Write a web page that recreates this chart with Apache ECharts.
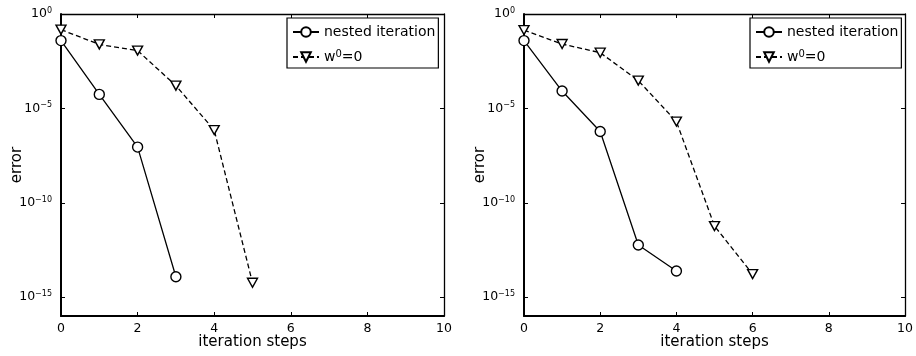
<!DOCTYPE html>
<html><head><meta charset="utf-8">
<script src="https://cdn.jsdelivr.net/npm/echarts@6/dist/echarts.min.js"></script>
<style>html,body{margin:0;padding:0;background:#fff}#c{width:916px;height:356px}</style>
</head><body><div id="c"></div>
<script>
// ---- data ----
const xTicks = [0, 2, 4, 6, 8, 10];
const yTickValues = [1, 1e-5, 1e-10, 1e-15];
const seriesNames = ['nested iteration', 'w0=0'];
const xLabelText = 'iteration steps';
const yLabelText = 'error';

const stepsLeftNested = [0, 1, 2, 3];
const errLeftNested   = [3.9e-2, 5.5e-5, 8.9e-8, 1.2e-14];
const stepsLeftZero   = [0, 1, 2, 3, 4, 5];
const errLeftZero     = [1.48e-1, 2.45e-2, 1.15e-2, 1.6e-4, 7.1e-7, 5.8e-15];

const stepsRightNested = [0, 1, 2, 3, 4];
const errRightNested   = [3.9e-2, 8.3e-5, 6.0e-7, 5.8e-13, 2.4e-14];
const stepsRightZero   = [0, 1, 2, 3, 4, 5, 6];
const errRightZero     = [1.41e-1, 2.57e-2, 8.9e-3, 2.95e-4, 2.0e-6, 5.8e-12, 1.66e-14];

// ---- build ----
const FONT = 'DejaVu Sans';
const black = '#000';
const chart = echarts.init(document.getElementById('c'), null, {renderer: 'canvas'});

const grids = [
  {left: 61, right: 472, top: 14, bottom: 40},
  {left: 524, right: 9, top: 14, bottom: 40}
];

function supLabel(v) {
  const e = Math.round(Math.log10(v));
  return '{b|10}{s|' + (e === 0 ? '0' : '\u2212' + (-e)) + '}';
}

const xAxes = [], yAxes = [];
grids.forEach((g, gi) => {
  const base = {
    type: 'value', gridIndex: gi, min: xTicks[0], max: xTicks[xTicks.length - 1], interval: 2,
    axisTick: {show: true, inside: true, length: 4, lineStyle: {color: black, width: 1}},
    splitLine: {show: false}
  };
  xAxes.push(Object.assign({}, base, {
    position: 'bottom',
    axisLine: {show: true, onZero: false, lineStyle: {color: black, width: 2}},
    name: xLabelText, nameLocation: 'middle', nameGap: 19, nameMoveOverlap: false,
    nameTextStyle: {fontFamily: FONT, fontSize: 15, color: black},
    axisLabel: {show: true, margin: 6, fontFamily: FONT, fontSize: 12.5, color: black}
  }));
  xAxes.push(Object.assign({}, base, {
    position: 'top',
    axisLine: {show: true, onZero: false, lineStyle: {color: black, width: 1.3}},
    axisLabel: {show: false}
  }));

  const ybase = {
    type: 'log', logBase: 10, gridIndex: gi, min: 1e-16, max: 1,
    axisTick: {show: true, inside: true, length: 4, lineStyle: {color: black, width: 1}, customValues: yTickValues},
    splitLine: {show: false},
    minorTick: {show: false}
  };
  yAxes.push(Object.assign({}, ybase, {
    position: 'left',
    axisLine: {show: true, onZero: false, lineStyle: {color: black, width: 2}},
    name: yLabelText, nameLocation: 'middle', nameGap: 36, nameMoveOverlap: false,
    nameTextStyle: {fontFamily: FONT, fontSize: 15, color: black},
    axisLabel: {
      show: true, margin: 9, customValues: yTickValues, formatter: supLabel,
      rich: {
        b: {fontFamily: FONT, fontSize: 12.5, color: black, lineHeight: 14},
        s: {fontFamily: FONT, fontSize: 8, color: black, lineHeight: 6, verticalAlign: 'top'}
      }
    }
  }));
  yAxes.push(Object.assign({}, ybase, {
    position: 'right',
    axisLine: {show: true, onZero: false, lineStyle: {color: black, width: 1.3}},
    axisLabel: {show: false}
  }));
});

function lineSeries(name, gi, xs, ys, symbol) {
  const tri = symbol === 'triangle';
  return {
    type: 'line', name: name,
    xAxisIndex: gi * 2, yAxisIndex: gi * 2,
    data: xs.map((x, i) => [x, ys[i]]),
    symbol: symbol, symbolSize: tri ? [10, 9] : 10, symbolRotate: tri ? 180 : 0,
    showSymbol: true,
    itemStyle: {color: '#fff', borderColor: black, borderWidth: 1.4},
    lineStyle: {color: black, width: 1.3, type: tri ? [5, 3] : 'solid'},
    emphasis: {disabled: true},
    silent: true
  };
}

const series = [
  lineSeries(seriesNames[0], 0, stepsLeftNested, errLeftNested, 'circle'),
  lineSeries(seriesNames[1], 0, stepsLeftZero, errLeftZero, 'triangle'),
  lineSeries(seriesNames[0], 1, stepsRightNested, errRightNested, 'circle'),
  lineSeries(seriesNames[1], 1, stepsRightZero, errRightZero, 'triangle')
];

function legend(left) {
  return {
    orient: 'vertical', left: left, top: 18,
    data: seriesNames,
    backgroundColor: '#fff', borderColor: black, borderWidth: 1.2, borderRadius: 0,
    padding: [6, 3, 3, 5],
    itemWidth: 26, itemHeight: 12, itemGap: 9,
    selectedMode: false,
    formatter: n => n === 'w0=0' ? '{t|w}{s|0}{t|=0}' : '{t|' + n + '}',
    textStyle: {
      fontFamily: FONT, fontSize: 14, color: black, lineHeight: 16,
      rich: {
        t: {fontFamily: FONT, fontSize: 14, color: black, lineHeight: 16},
        s: {fontFamily: FONT, fontSize: 10, color: black, lineHeight: 6, verticalAlign: 'top'}
      }
    }
  };
}

chart.setOption({
  animation: false,
  backgroundColor: '#fff',
  grid: grids,
  xAxis: xAxes,
  yAxis: yAxes,
  legend: [legend(287), legend(750)],
  series: series
});
</script>
</body></html>
